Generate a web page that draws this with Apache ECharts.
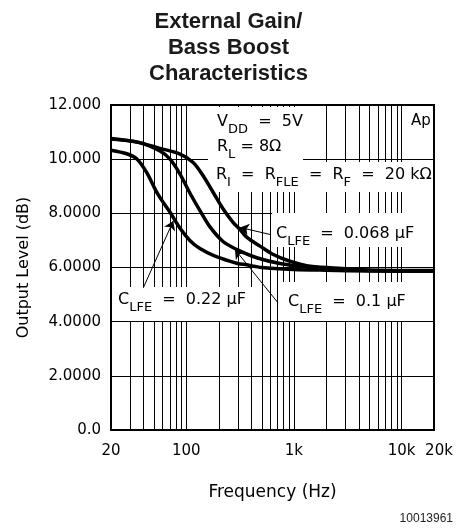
<!DOCTYPE html>
<html>
<head>
	<meta charset="UTF-8">
	<title></title>
	<script type="text/javascript" src="https://cdn.jsdelivr.net/npm/echarts@6/dist/echarts.min.js"></script>
	<style type="text/css">
		html,body{margin:0; padding:0; background:#fff;}
		#chart1{width:457px; height:531px;}
	</style>
</head>
<body>
	<div id="chart1"></div>
	<script type="text/javascript">
		// curves: [frequency (Hz), output level (dB)]
		var cLfe022 = [[20,10.33],[28,10.2],[35,10.0],[43,9.5],[52,8.85],[60,8.45],[71,8.03],[87.5,7.45],[108,7.0],[134,6.7],[185,6.42],[300,6.15],[364,6.1],[500,6.0],[1000,5.93],[2000,5.9],[5000,5.87],[20000,5.86]];
		var cLfe01 = [[20,10.74],[36,10.62],[57,10.3],[70.6,10.0],[87.5,9.45],[108,8.75],[134,8.1],[166,7.5],[221,6.95],[300,6.65],[451,6.36],[741,6.15],[1312,6.02],[2160,5.95],[5000,5.89],[20000,5.88]];
		var cLfe0068 = [[20,10.76],[36,10.62],[57,10.4],[87.5,10.19],[116,9.88],[144,9.38],[178,8.77],[221,8.15],[273,7.66],[315,7.41],[364,7.12],[484,6.79],[643,6.48],[918,6.23],[1312,6.07],[2160,5.99],[5000,5.91],[20000,5.89]];

		var xTicks = [20, 100, 1000, 10000, 20000];
		var xTickLabels = ['20', '100', '1k', '10k', '{r|20k}'];
		var yTickLabels = ['0.0', '2.0000', '4.0000', '6.0000', '8.0000', '10.000', '12.000'];
		var minorGrid = [30,40,50,60,70,80,90,200,300,400,500,600,700,800,900,2000,3000,4000,5000,6000,7000,8000,9000];
		// arrows: [tail f, tail dB, head f, head dB]
		var arrowPoints = [[599,7.22,315,7.48],[710,4.70,283,6.67],[39.9,5.25,75.8,7.72]];
		var titleLines = ['External Gain/', 'Bass Boost', 'Characteristics'];

		var fnt = 'DejaVu Sans';
		var rich = {
			m: {fontFamily: fnt, fontSize: 16, lineHeight: 16, verticalAlign: 'top', color: '#000'},
			s: {fontFamily: fnt, fontSize: 13, lineHeight: 13, padding: [9,0,0,0], verticalAlign: 'top', color: '#000'},
			a: {fontFamily: fnt, fontSize: 15, lineHeight: 16, verticalAlign: 'top', color: '#000'}
		};
		function note(x, y, txt){
			return {type: 'text', x: x, y: y, z: 3, silent: true,
				style: {text: txt, rich: rich, align: 'left', verticalAlign: 'top'}};
		}
		function box(x, y, w, h){
			return {type: 'rect', z: 3, silent: true, shape: {x: x, y: y, width: w, height: h}, style: {fill: '#fff'}};
		}

		var myChart = echarts.init(document.getElementById('chart1'));

		function curve(name, d){
			return {
				name: name, type: 'line', data: d, z: 4,
				showSymbol: false, smooth: 0.3, silent: true,
				lineStyle: {color: '#000', width: 3.5}
			};
		}

		var option = {
			backgroundColor: '#fff',
			animation: false,
			title: {
				text: titleLines.join('\n'),
				left: 'center', top: 9,
				padding: [0, 0, 0, 10],
				textStyle: {fontFamily: 'Liberation Sans', fontSize: 22, fontWeight: 'bold', lineHeight: 26, color: '#1a1a1a'}
			},
			grid: {left: 111, right: 23, top: 105, bottom: 101, show: true, borderColor: '#000', borderWidth: 2, backgroundColor: 'transparent'},
			xAxis: {
				type: 'log', logBase: 10, min: 20, max: 20000,
				axisLine: {lineStyle: {color: '#000', width: 2}},
				axisTick: {show: false},
				axisLabel: {
					showMinLabel: true, showMaxLabel: true, margin: 14,
					fontFamily: fnt, fontSize: 15, color: '#000',
					rich: {r: {fontFamily: fnt, fontSize: 15, color: '#000', padding: [0, 0, 0, 10]}},
					formatter: function(v){
						for (var i = 0; i < xTicks.length; i++) {
							if (Math.abs(xTicks[i] - v) / xTicks[i] < 0.01) return xTickLabels[i];
						}
						return '';
					}
				},
				splitLine: {show: true, lineStyle: {color: '#000', width: 1}},
				name: 'Frequency (Hz)', nameLocation: 'middle', nameGap: 54,
				nameTextStyle: {fontFamily: fnt, fontSize: 17, color: '#000'}
			},
			yAxis: {
				type: 'value', min: 0, max: 12, interval: 2,
				axisLine: {show: true, lineStyle: {color: '#000', width: 2}},
				axisTick: {show: false},
				axisLabel: {
					margin: 10, fontFamily: fnt, fontSize: 15, color: '#000',
					formatter: function(v){ return yTickLabels[Math.round(v / 2)]; }
				},
				splitLine: {show: true, lineStyle: {color: '#000', width: 1}},
				name: 'Output Level (dB)', nameLocation: 'middle', nameGap: 79,
				nameTextStyle: {fontFamily: fnt, fontSize: 16, color: '#000'}
			},
			series: [
				{
					// log-decade minor grid lines
					type: 'custom', z: 1, silent: true,
					data: minorGrid.map(function(f){ return [f, 0]; }),
					renderItem: function(params, api){
						var a = api.coord([api.value(0), 12]);
						var b = api.coord([api.value(0), 0]);
						var x = Math.round(a[0]) + 0.5;
						return {type: 'line', shape: {x1: x, y1: a[1], x2: x, y2: b[1]}, style: {stroke: '#000', lineWidth: 1}};
					}
				},
				curve('0.22', cLfe022),
				curve('0.1', cLfe01),
				curve('0.068', cLfe0068),
				{
					type: 'line', data: [], z: 5,
					markLine: {
						silent: true, animation: false,
						symbol: ['none', 'arrow'], symbolSize: 9,
						label: {show: false},
						lineStyle: {color: '#000', width: 1, type: 'solid'},
						data: arrowPoints.map(function(a){
							return [{coord: [a[0], a[1]]}, {coord: [a[2], a[3]]}];
						})
					}
				}
			],
			graphic: [
				box(208, 107, 95, 55),
				box(212, 162, 221, 30),
				box(272, 213, 161, 34),
				box(112, 287, 144, 34),
				box(280, 282, 153, 39),
				box(405, 107, 28, 22),
				note(217, 114, '{m|V}{s|DD}{m|  =  5V}'),
				note(217, 139, '{m|R}{s|L}{m| = 8Ω}'),
				note(216, 167, '{m|R}{s|I}{m|  =  R}{s|FLE}{m|  =  R}{s|F}{m|  =  20 kΩ}'),
				note(411, 114, '{a|Ap}'),
				note(276, 226, '{m|C}{s|LFE}{m|  =  0.068 µF}'),
				note(118, 292, '{m|C}{s|LFE}{m|  =  0.22 µF}'),
				note(288, 294, '{m|C}{s|LFE}{m|  =  0.1 µF}'),
				{type: 'text', right: 4, top: 513, z: 3, silent: true,
					style: {text: '10013961', fontFamily: 'Liberation Sans', fontSize: 12, fill: '#222'}}
			]
		};
		myChart.setOption(option);
	</script>
</body>
</html>
